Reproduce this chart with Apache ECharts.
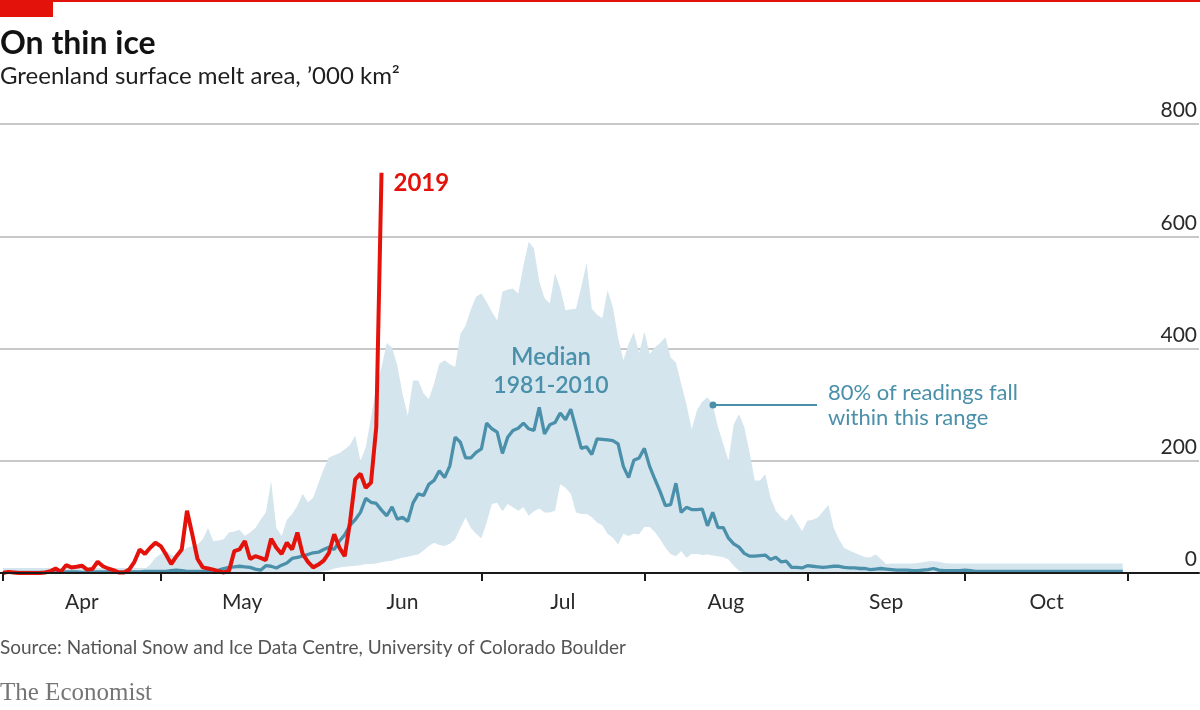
<!DOCTYPE html>
<html>
<head>
<meta charset="utf-8">
<title>On thin ice</title>
<script src="https://cdn.jsdelivr.net/npm/echarts@6/dist/echarts.min.js"></script>
<style>
  html, body { margin: 0; padding: 0; background: #fff; }
  #chart { width: 1200px; height: 710px; }
</style>
</head>
<body>
<div id="chart"></div>
<script>
// days counted from April 1st
const monthNames = ['Apr', 'May', 'Jun', 'Jul', 'Aug', 'Sep', 'Oct'];
const monthStarts = [0, 30, 61, 91, 122, 153, 183, 214];
const monthMids = [15, 45.5, 76, 106.5, 137.5, 168, 198.5];

// 2019 daily melt area, '000 km2 (Apr 1 - Jun 12)
const melt2019 = [
  0, 2, 1, 0, 0, 0, 0, 0, 1, 3,
  8, 2, 14, 10, 11, 13, 6, 7, 20, 12,
  8, 5, 1, 1, 6, 20, 42, 34, 45, 54,
  48, 33, 16, 30, 42, 111, 69, 25, 10, 8,
  6, 3, 1, 4, 39, 42, 57, 25, 30, 27,
  23, 61, 45, 34, 54, 42, 72, 34, 20, 10,
  15, 22, 36, 69, 45, 30, 90, 167, 177, 152,
  161, 260, 713
];

// median 1981-2010 (Apr 1 - Oct 31)
const median = [
  1, 1, 1, 1, 1, 1, 1, 1, 1, 1,
  1, 1, 2, 2, 2, 1, 1, 2, 2, 2,
  2, 2, 2, 2, 2, 2, 2, 3, 3, 3,
  3, 3, 4, 5, 4, 3, 3, 3, 3, 3,
  4, 5, 8, 10, 11, 12, 11, 10, 7, 5,
  13, 12, 9, 14, 18, 26, 28, 30, 33, 36,
  37, 42, 46, 42, 57, 68, 85, 95, 108, 133,
  126, 124, 112, 102, 118, 96, 99, 92, 125, 141,
  138, 158, 165, 182, 170, 191, 242, 233, 205, 205,
  215, 221, 267, 257, 251, 213, 242, 254, 258, 267,
  257, 254, 295, 248, 264, 268, 285, 273, 292, 257,
  222, 225, 211, 239, 238, 237, 236, 230, 190, 170,
  201, 205, 222, 190, 167, 145, 120, 122, 160, 108,
  117, 113, 113, 114, 84, 108, 81, 81, 62, 52,
  46, 35, 30, 30, 31, 32, 24, 28, 20, 21,
  10, 10, 9, 13, 12, 11, 10, 11, 12, 12,
  10, 9, 9, 8, 8, 6, 7, 8, 7, 6,
  5, 5, 5, 4, 4, 5, 6, 8, 5, 4,
  4, 4, 4, 5, 4, 3, 3, 3, 3, 3,
  3, 3, 3, 3, 3, 3, 3, 3, 3, 3,
  3, 3, 3, 3, 3, 3, 3, 3, 3, 3,
  3, 3, 3, 3
];

// 90th percentile
const bandHigh = [
  4, 4, 4, 4, 4, 4, 4, 4, 4, 4,
  4, 4, 4, 4, 4, 5, 5, 5, 5, 5,
  5, 5, 5, 6, 6, 6, 6, 7, 15, 27,
  34, 39, 33, 27, 38, 45, 48, 51, 60, 80,
  57, 58, 60, 72, 74, 77, 66, 72, 80, 95,
  108, 164, 80, 66, 95, 105, 120, 141, 126, 134,
  160, 185, 206, 210, 214, 220, 228, 245, 200, 224,
  277, 331, 367, 410, 402, 370, 319, 280, 343, 343,
  320, 310, 337, 373, 379, 372, 367, 426, 441, 470,
  492, 498, 483, 465, 450, 501, 505, 507, 498, 548,
  590, 578, 520, 490, 480, 534, 507, 468, 470, 471,
  510, 552, 471, 460, 454, 504, 474, 420, 379, 408,
  429, 392, 430, 390, 402, 410, 420, 384, 375, 337,
  301, 256, 290, 305, 313, 300, 260, 230, 200, 265,
  283, 260, 215, 165, 165, 176, 134, 111, 100, 93,
  105, 90, 75, 93, 95, 99, 110, 121, 81, 60,
  45, 40, 36, 32, 28, 28, 33, 25, 16, 17,
  17, 17, 17, 17, 18, 19, 21, 21, 20, 18,
  17, 17, 17, 17, 17, 17, 17, 17, 17, 17,
  17, 17, 17, 17, 17, 17, 17, 17, 17, 17,
  17, 17, 17, 17, 17, 17, 17, 17, 17, 17,
  17, 17, 17, 17
];

// 10th percentile
const bandLow = [
  0, 0, 0, 0, 0, 0, 0, 0, 0, 0,
  0, 0, 0, 0, 0, 0, 0, 0, 0, 0,
  0, 0, 0, 0, 0, 0, 0, 0, 0, 0,
  0, 0, 0, 0, 0, 0, 0, 0, 0, 0,
  0, 0, 0, 0, 0, 0, 0, 0, 0, 0,
  0, 0, 0, 0, 0, 0, 0, 0, 0, 0,
  1, 3, 5, 8, 10, 11, 12, 13, 14, 16,
  16, 17, 19, 21, 22, 25, 27, 29, 31, 33,
  40, 48, 54, 50, 48, 52, 60, 80, 99, 80,
  70, 62, 90, 123, 125, 110, 123, 117, 111, 117,
  102, 110, 115, 108, 108, 111, 158, 152, 141, 108,
  105, 105, 100, 90, 85, 70, 63, 51, 70, 66,
  70, 69, 82, 82, 73, 60, 45, 34, 30, 39,
  27, 34, 34, 32, 33, 31, 30, 28, 24, 13,
  4, 2, 1, 0, 0, 0, 0, 0, 0, 0,
  0, 0, 0, 0, 0, 0, 0, 0, 0, 0,
  0, 0, 0, 0, 0, 0, 0, 0, 0, 0,
  0, 0, 0, 0, 0, 0, 0, 0, 0, 0,
  0, 0, 0, 0, 0, 0, 0, 0, 0, 0,
  0, 0, 0, 0, 0, 0, 0, 0, 0, 0,
  0, 0, 0, 0, 0, 0, 0, 0, 0, 0,
  0, 0, 0, 0
];

// thin shaded floor along the baseline
const floorBand = [0, 9];

const RED = '#e3120b';
const BLUE = '#4a90aa';
const BAND = '#d4e5ee';
const FONT = 'Lato, "Noto Sans", sans-serif';

const toPairs = (arr) => arr.map((v, d) => [d, v]);

const chart = echarts.init(document.getElementById('chart'));

chart.setOption({
  animation: false,
  backgroundColor: '#fff',
  grid: {
    left: 0,
    right: 0,
    top: 124,
    bottom: 137,
  },
  xAxis: {
    type: 'value',
    min: -0.57,
    max: 227.5,
    z: 10,
    axisLine: {
      lineStyle: { color: '#1a1a1a', width: 2 },
    },
    axisTick: {
      customValues: monthStarts,
      length: 8,
      lineStyle: { color: '#1a1a1a', width: 2 },
    },
    axisLabel: {
      customValues: monthMids,
      formatter: (val) => monthNames[monthMids.indexOf(val)],
      margin: 19,
      fontSize: 21,
      fontFamily: FONT,
      color: '#2a2a2a',
    },
    splitLine: { show: false },
  },
  yAxis: {
    type: 'value',
    position: 'right',
    min: 0,
    max: 800,
    interval: 200,
    axisLine: { show: false },
    axisTick: { show: false },
    axisLabel: {
      inside: true,
      margin: 2,
      verticalAlign: 'bottom',
      padding: [0, 0, 3, 0],
      fontSize: 21,
      fontFamily: FONT,
      color: '#2a2a2a',
    },
    splitLine: {
      lineStyle: { color: '#c8c8c8', width: 2 },
    },
  },
  series: [
    {
      // upper edge of the 80% range, filled down to zero
      name: '80% range',
      type: 'line',
      data: toPairs(bandHigh),
      symbol: 'none',
      lineStyle: { opacity: 0 },
      areaStyle: { color: BAND, opacity: 1 },
      silent: true,
      z: 1,
    },
    {
      // below the 10th percentile: cut back out in white
      name: 'low',
      type: 'line',
      data: toPairs(bandLow),
      symbol: 'none',
      lineStyle: { opacity: 0 },
      areaStyle: { color: '#fff', opacity: 1 },
      silent: true,
      z: 1.5,
    },
    {
      name: 'floor',
      type: 'line',
      data: [],
      silent: true,
      z: 2,
      markArea: {
        silent: true,
        itemStyle: { color: BAND },
        data: [[
          { xAxis: 0, yAxis: floorBand[0] },
          { xAxis: bandLow.length - 1, yAxis: floorBand[1] },
        ]],
      },
    },
    {
      name: 'Median 1981-2010',
      type: 'line',
      data: toPairs(median),
      symbol: 'none',
      lineStyle: { color: BLUE, width: 3.3 },
      z: 3,
    },
    {
      name: '2019',
      type: 'line',
      data: toPairs(melt2019),
      symbol: 'none',
      lineStyle: { color: RED, width: 4 },
      z: 4,
      endLabel: {
        show: true,
        formatter: '2019',
        distance: 12,
        offset: [0, 10],
        color: RED,
        fontSize: 24,
        fontWeight: 'bold',
        fontFamily: FONT,
      },
    },
  ],
  graphic: [
    { type: 'rect', shape: { x: 0, y: 0, width: 1200, height: 2 }, style: { fill: RED } },
    { type: 'rect', shape: { x: 0, y: 0, width: 53, height: 17 }, style: { fill: RED } },
    {
      type: 'text', x: 0, y: 44,
      style: { text: 'On thin ice', font: 'bold 32px ' + FONT, fill: '#121212', verticalAlign: 'middle' },
    },
    {
      type: 'text', x: 0, y: 76,
      style: { text: 'Greenland surface melt area, \u2019000 km\u00b2', font: '24px ' + FONT, fill: '#1e1e1e', verticalAlign: 'middle' },
    },
    {
      type: 'text', x: 551, y: 357, z: 20,
      style: { text: 'Median', font: '600 24px ' + FONT, fill: BLUE, align: 'center', verticalAlign: 'middle' },
    },
    {
      type: 'text', x: 551, y: 386, z: 20,
      style: { text: '1981-2010', font: '600 23px ' + FONT, fill: BLUE, align: 'center', verticalAlign: 'middle' },
    },
    {
      type: 'line', z: 20,
      shape: { x1: 713, y1: 405, x2: 817, y2: 405 },
      style: { stroke: BLUE, lineWidth: 2 },
    },
    {
      type: 'circle', z: 20,
      shape: { cx: 713, cy: 405, r: 3.5 },
      style: { fill: BLUE },
    },
    {
      type: 'text', x: 828, y: 393, z: 20,
      style: { text: '80% of readings fall', font: '22px ' + FONT, fill: BLUE, verticalAlign: 'middle' },
    },
    {
      type: 'text', x: 828, y: 418, z: 20,
      style: { text: 'within this range', font: '22px ' + FONT, fill: BLUE, verticalAlign: 'middle' },
    },
    {
      type: 'text', x: 0, y: 648,
      style: { text: 'Source: National Snow and Ice Data Centre, University of Colorado Boulder', font: '19px ' + FONT, fill: '#555', verticalAlign: 'middle' },
    },
    {
      type: 'text', x: 0, y: 693,
      style: { text: 'The Economist', font: '25px "Liberation Serif", serif', fill: '#757575', verticalAlign: 'middle' },
    },
  ],
});
</script>
</body>
</html>
